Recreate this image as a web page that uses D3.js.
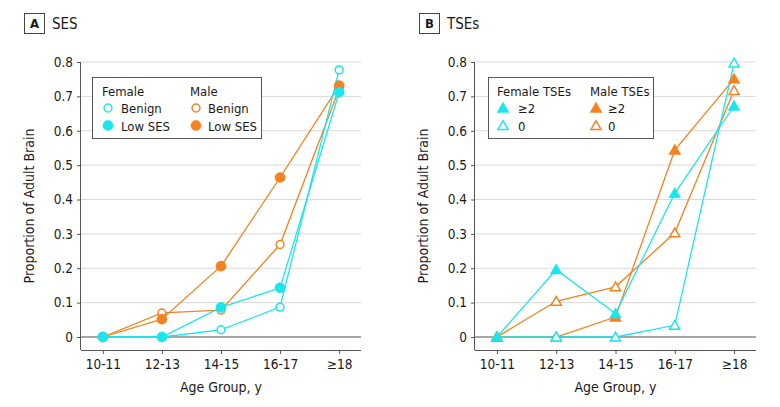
<!DOCTYPE html>
<html>
<head>
<meta charset="utf-8">
<script src="https://cdn.jsdelivr.net/npm/d3@7"></script>
<style>
  body { margin: 0; background: #fff; }
  svg text { font-family: "DejaVu Sans Condensed", "DejaVu Sans", sans-serif; fill: #1a1a1a; }
</style>
</head>
<body>
<svg id="chart" width="780" height="407"></svg>
<script>
// categories and tick labels
var ageGroups = ["10-11", "12-13", "14-15", "16-17", "\u226518"];
var yTicks = [0, 0.1, 0.2, 0.3, 0.4, 0.5, 0.6, 0.7, 0.8];

// panel A: SES
var femaleBenign = [0, 0, 0.021, 0.087, 0.777];
var femaleLowSES = [0, 0, 0.086, 0.143, 0.712];
var maleBenign   = [0, 0.07, 0.078, 0.269, 0.722];
var maleLowSES   = [0, 0.052, 0.206, 0.464, 0.731];

// panel B: TSEs
var femaleTSE2 = [0, 0.196, 0.068, 0.418, 0.672];
var femaleTSE0 = [0, 0, 0, 0.034, 0.797];
var maleTSE2   = [0, 0, 0.058, 0.544, 0.751];
var maleTSE0   = [0, 0.104, 0.146, 0.303, 0.717];

var CYAN = "#19E6EE";
var ORANGE = "#F58220";

var svg = d3.select("#chart");

function buildPanel(opts) {
    var g = svg.append("g");
    var x = d3.scalePoint().domain(ageGroups).range([opts.left, opts.right]).padding(0.37);
    var y = d3.scaleLinear().domain([0, 0.8]).range([337, 62]);
    var bottom = 350;

    // grid lines
    g.selectAll("line.grid")
        .data(yTicks)
        .enter()
        .append("line")
        .attr("x1", opts.left)
        .attr("x2", opts.right)
        .attr("y1", function (d) { return y(d); })
        .attr("y2", function (d) { return y(d); })
        .attr("stroke", function (d) { return d === 0 ? "#8a8a8a" : "#d9d9d9"; })
        .attr("stroke-width", function (d) { return d === 0 ? 1.5 : 1; });

    // y axis
    var yAxis = g.append("g")
        .attr("transform", "translate(" + opts.left + ",0)")
        .call(d3.axisLeft(y).tickValues(yTicks).tickSize(4).tickPadding(4)
            .tickFormat(function (d) { return d === 0 ? "0" : d3.format(".1f")(d); }));
    yAxis.select(".domain").attr("d", "M-0.5," + y(0.8) + "V" + bottom).attr("stroke", "#555");

    // x axis
    var xAxis = g.append("g")
        .attr("transform", "translate(0," + bottom + ")")
        .call(d3.axisBottom(x).tickSize(4).tickPadding(5));
    xAxis.select(".domain").attr("d", "M" + opts.left + ",0.5H" + opts.right).attr("stroke", "#555");

    g.selectAll(".tick line").attr("stroke", "#555");
    g.selectAll(".tick text").attr("font-size", 13.5).attr("fill", "#1a1a1a")
        .attr("font-family", "DejaVu Sans Condensed, DejaVu Sans, sans-serif");

    // axis titles
    g.append("text")
        .attr("transform", "translate(" + (opts.left - 47) + "," + ((y(0.8) + bottom) / 2) + ") rotate(-90)")
        .attr("text-anchor", "middle")
        .attr("font-size", 14)
        .text("Proportion of Adult Brain");
    g.append("text")
        .attr("x", (opts.left + opts.right) / 2)
        .attr("y", 392)
        .attr("text-anchor", "middle")
        .attr("font-size", 14)
        .text("Age Group, y");

    // panel label
    g.append("rect")
        .attr("x", opts.boxX + 0.5).attr("y", 13.5)
        .attr("width", 20).attr("height", 20)
        .attr("fill", "#fff").attr("stroke", "#444");
    g.append("text")
        .attr("x", opts.boxX + 10.5).attr("y", 28)
        .attr("text-anchor", "middle")
        .attr("font-weight", "bold")
        .attr("font-size", 13)
        .text(opts.letter);
    g.append("text")
        .attr("x", opts.boxX + 28).attr("y", 29)
        .attr("font-size", 15)
        .text(opts.title);

    // lines and markers
    var line = d3.line()
        .x(function (d, i) { return x(ageGroups[i]); })
        .y(function (d) { return y(d); });

    opts.series.forEach(function (s) {
        g.append("path")
            .datum(s.values)
            .attr("d", line)
            .attr("fill", "none")
            .attr("stroke", s.color)
            .attr("stroke-width", 1.3);
    });
    opts.series.forEach(function (s) {
        drawMarkers(g, s, x, y);
    });

    // legend
    var lg = g.append("g");
    lg.append("rect")
        .attr("x", opts.legend.x + 0.5).attr("y", 77.5)
        .attr("width", opts.legend.w).attr("height", 61)
        .attr("fill", "#fff").attr("stroke", "#555");
    opts.legend.groups.forEach(function (grp) {
        lg.append("text")
            .attr("x", grp.x).attr("y", 96)
            .attr("font-size", 13)
            .text(grp.title);
        grp.items.forEach(function (item, i) {
            var cy = 108 + i * 17.5;
            drawSymbol(lg, item.series, grp.x + 6, cy);
            lg.append("text")
                .attr("x", grp.x + grp.labelDx).attr("y", cy + 5)
                .attr("font-size", 13)
                .text(item.label);
        });
    });
}

function drawSymbol(g, s, cx, cy) {
    var sym = s.shape === "circle" ? d3.symbolCircle : d3.symbolTriangle;
    var size = s.shape === "circle" ? (s.filled ? 82 : 48) : (s.filled ? 62 : 44);
    g.append("path")
        .attr("d", d3.symbol().type(sym).size(size)())
        .attr("transform", "translate(" + cx + "," + (cy + (s.shape === "circle" ? 0 : 1)) + ")")
        .attr("fill", s.filled ? s.color : "#fff")
        .attr("stroke", s.color)
        .attr("stroke-width", s.filled ? 0.5 : 1.5);
}

function drawMarkers(g, s, x, y) {
    s.values.forEach(function (v, i) {
        drawSymbol(g, s, x(ageGroups[i]), y(v));
    });
}

var sFemaleBenign = { values: femaleBenign, color: CYAN, shape: "circle", filled: false };
var sFemaleLow    = { values: femaleLowSES, color: CYAN, shape: "circle", filled: true };
var sMaleBenign   = { values: maleBenign, color: ORANGE, shape: "circle", filled: false };
var sMaleLow      = { values: maleLowSES, color: ORANGE, shape: "circle", filled: true };

var sFemale2 = { values: femaleTSE2, color: CYAN, shape: "triangle", filled: true };
var sFemale0 = { values: femaleTSE0, color: CYAN, shape: "triangle", filled: false };
var sMale2   = { values: maleTSE2, color: ORANGE, shape: "triangle", filled: true };
var sMale0   = { values: maleTSE0, color: ORANGE, shape: "triangle", filled: false };

buildPanel({
    left: 81, right: 361, boxX: 24, letter: "A", title: "SES",
    series: [sMaleBenign, sMaleLow, sFemaleBenign, sFemaleLow],
    legend: {
        x: 92, w: 169,
        groups: [
            { x: 102, title: "Female", labelDx: 19, items: [
                { series: sFemaleBenign, label: "Benign" },
                { series: sFemaleLow, label: "Low SES" }] },
            { x: 190, title: "Male", labelDx: 18, items: [
                { series: sMaleBenign, label: "Benign" },
                { series: sMaleLow, label: "Low SES" }] }
        ]
    }
});

buildPanel({
    left: 475, right: 756, boxX: 419, letter: "B", title: "TSEs",
    series: [sMale0, sMale2, sFemale0, sFemale2],
    legend: {
        x: 488, w: 165,
        groups: [
            { x: 497, title: "Female TSEs", labelDx: 21, items: [
                { series: sFemale2, label: "\u22652" },
                { series: sFemale0, label: "0" }] },
            { x: 590, title: "Male TSEs", labelDx: 18, items: [
                { series: sMale2, label: "\u22652" },
                { series: sMale0, label: "0" }] }
        ]
    }
});
</script>
</body>
</html>
